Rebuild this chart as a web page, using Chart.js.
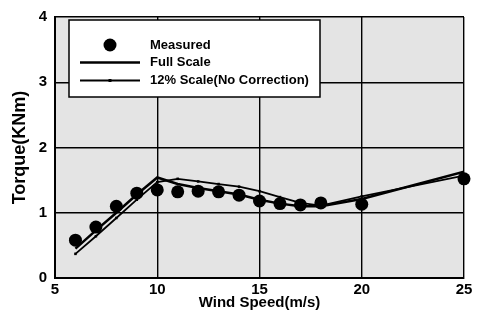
<!DOCTYPE html>
<html>
<head>
<meta charset="utf-8">
<script src="https://cdn.jsdelivr.net/npm/chart.js@4"></script>
<style>
  html, body { margin: 0; padding: 0; background: #fff; }
</style>
</head>
<body>
<canvas id="torqueChart" width="477" height="312"></canvas>
<script>
// values
const windSpeed = [6, 7, 8, 9, 10, 11, 12, 13, 14, 15, 16, 17, 18, 20, 25];
const measured  = [0.58, 0.78, 1.10, 1.30, 1.35, 1.32, 1.33, 1.32, 1.27, 1.18, 1.14, 1.12, 1.15, 1.13, 1.52];
const fullScale = [0.45, 0.73, 1.00, 1.28, 1.54, 1.44, 1.38, 1.33, 1.28, 1.20, 1.14, 1.10, 1.10, 1.21, 1.63];
const scale12   = [0.37, 0.64, 0.92, 1.20, 1.47, 1.52, 1.48, 1.44, 1.40, 1.33, 1.24, 1.15, 1.11, 1.25, 1.57];
const seriesNames = ['Measured', 'Full Scale', '12% Scale(No Correction)'];

const toPoints = ys => windSpeed.map((x, i) => ({x: x, y: ys[i]}));
const fontFam = "'Liberation Sans', Arial, sans-serif";

const plotBg = {
    id: 'plotBg',
    beforeDraw(chart) {
        const {ctx, chartArea: a} = chart;
        ctx.save();
        ctx.fillStyle = '#e4e4e4';
        ctx.fillRect(a.left, a.top, a.right - a.left, a.bottom - a.top);
        ctx.restore();
    }
};

// legend box drawn inside the plot, like the original
const boxLegend = {
    id: 'boxLegend',
    afterDraw(chart) {
        const ctx = chart.ctx;
        ctx.save();
        ctx.fillStyle = '#fff';
        ctx.fillRect(69, 20, 251, 77);
        ctx.strokeStyle = '#000';
        ctx.lineWidth = 1.5;
        ctx.strokeRect(69, 20, 251, 77);

        ctx.fillStyle = '#000';
        ctx.beginPath();
        ctx.arc(110, 45, 6.5, 0, Math.PI * 2);
        ctx.fill();

        ctx.lineWidth = 2.5;
        ctx.beginPath();
        ctx.moveTo(80, 62.5);
        ctx.lineTo(140, 62.5);
        ctx.stroke();

        ctx.lineWidth = 1.8;
        ctx.beginPath();
        ctx.moveTo(80, 80.5);
        ctx.lineTo(140, 80.5);
        ctx.stroke();
        ctx.fillRect(108.5, 79, 3, 3);

        ctx.font = 'bold 13px ' + fontFam;
        ctx.textBaseline = 'middle';
        ctx.fillText(seriesNames[0], 150, 45);
        ctx.fillText(seriesNames[1], 150, 62.5);
        ctx.fillText(seriesNames[2], 150, 80.5);
        ctx.restore();
    }
};

const myChart = new Chart(document.getElementById('torqueChart'), {
    type: 'line',
    data: {
        datasets: [
            {
                label: seriesNames[0],
                data: toPoints(measured),
                showLine: false,
                clip: false,
                pointRadius: 6.5,
                pointBackgroundColor: '#000',
                pointBorderWidth: 0
            },
            {
                label: seriesNames[1],
                data: toPoints(fullScale),
                borderColor: '#000',
                borderWidth: 2.5,
                pointRadius: 0,
                tension: 0
            },
            {
                label: seriesNames[2],
                data: toPoints(scale12),
                borderColor: '#000',
                borderWidth: 1.8,
                pointStyle: 'rect',
                pointRadius: 1.8,
                pointBackgroundColor: '#000',
                pointBorderWidth: 0,
                tension: 0
            }
        ]
    },
    options: {
        responsive: false,
        animation: false,
        devicePixelRatio: 1,
        layout: {padding: {top: 10, right: 13, left: 0, bottom: 0}},
        plugins: {
            legend: {display: false},
            tooltip: {enabled: false}
        },
        scales: {
            x: {
                type: 'linear',
                min: 5,
                max: 25,
                afterFit: s => { s.height = 34; },
                ticks: {
                    stepSize: 5,
                    padding: 3,
                    color: '#000',
                    font: {size: 15, weight: 'bold', family: fontFam}
                },
                grid: {color: '#000', lineWidth: 1.4, drawTicks: false},
                border: {color: '#000', width: 2},
                title: {
                    display: true,
                    text: 'Wind Speed(m/s)',
                    color: '#000',
                    padding: {top: 0, bottom: 0},
                    font: {size: 15, weight: 'bold', family: fontFam}
                }
            },
            y: {
                min: 0,
                max: 4,
                afterFit: s => { s.width = 55; },
                ticks: {
                    stepSize: 1,
                    padding: 8,
                    color: '#000',
                    font: {size: 15, weight: 'bold', family: fontFam}
                },
                grid: {color: '#000', lineWidth: 1.4, drawTicks: false},
                border: {color: '#000', width: 2},
                title: {
                    display: true,
                    text: 'Torque(KNm)',
                    color: '#000',
                    padding: {top: 9, bottom: 0},
                    font: {size: 18, weight: 'bold', family: fontFam}
                }
            }
        }
    },
    plugins: [plotBg, boxLegend]
});
</script>
</body>
</html>
